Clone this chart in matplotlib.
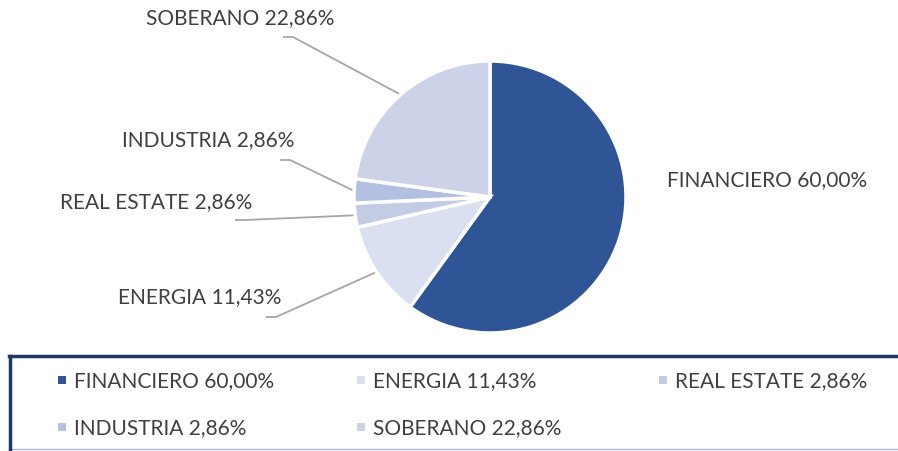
import matplotlib.pyplot as plt
import numpy as np
from matplotlib.patches import Rectangle
from matplotlib.lines import Line2D

## Data

sectors = ["FINANCIERO", "ENERGIA", "REAL ESTATE", "INDUSTRIA", "SOBERANO"]
shares = [60.00, 11.43, 2.86, 2.86, 22.86]
colors = ["#2F5597", "#DAE0EF", "#C4CBE5", "#B4C0E1", "#CCD3E8"]
labels = [s + " " + ("%.2f" % v).replace(".", ",") + "%" for s, v in zip(sectors, shares)]

## Layout (pixels, y measured from top)

W, H = 898, 452
cx, cy, radius = 490, 198, 136
# where each outside label sits, and the elbow of its leader line
label_xy = [(767, 180), (200, 297), (156, 202), (208, 140), (240, 18)]
elbow_xy = [None, (266, 318), (235, 221), (280, 161), (283, 38)]

text_color = "#404040"
line_color = "#A6A6A6"
plt.rcParams['font.family'] = ['Lato', 'DejaVu Sans']

fig = plt.figure(figsize=(W / 100, H / 100), dpi=100)
ax = fig.add_axes([0, 0, 1, 1])
ax.set_xlim(0, W)
ax.set_ylim(0, H)
ax.set_aspect('equal')
ax.axis('off')

wedges, _ = ax.pie(shares, colors=colors, startangle=90, counterclock=False,
                   center=(cx, H - cy), radius=radius,
                   wedgeprops=dict(edgecolor='white', linewidth=2.5))
ax.set_xlim(0, W)
ax.set_ylim(0, H)

# Labels and leader lines
for w, lab, (lx, ly), elbow in zip(wedges, labels, label_xy, elbow_xy):
    ax.text(lx, H - ly, lab, ha='center', va='center', fontsize=15, color=text_color)
    if elbow is None:
        continue
    mid = np.deg2rad((w.theta1 + w.theta2) / 2)
    px = cx + radius * np.cos(mid)
    py = (H - cy) + radius * np.sin(mid)
    ex, ey = elbow
    ax.plot([ex, ex + 10, px], [H - ey, H - ey, py], color=line_color, lw=1.3,
            solid_capstyle='butt', zorder=0)

# Legend box
ax.add_patch(Rectangle((10, H - 450), W, 450 - 357, facecolor='white',
                       edgecolor='none', zorder=1))
ax.add_line(Line2D([10, W], [H - 450, H - 450], color="#A9B4CF", lw=1))
ax.add_line(Line2D([10, 10], [H - 451, H - 357], color="#1F3864", lw=2.5))
ax.add_line(Line2D([9, W], [H - 357, H - 357], color="#1F3864", lw=2.5))

col_x = [62, 361, 663]
row_y = [381, 428]
for i, (lab, c) in enumerate(zip(labels, colors)):
    x = col_x[i % 3]
    y = row_y[i // 3]
    ax.add_patch(Rectangle((x - 4, H - y - 4), 8, 8, facecolor=c, edgecolor='none', zorder=2))
    ax.text(x + 12, H - y, lab, ha='left', va='center', fontsize=15, color=text_color)

fig.savefig("out.png", dpi=100)
